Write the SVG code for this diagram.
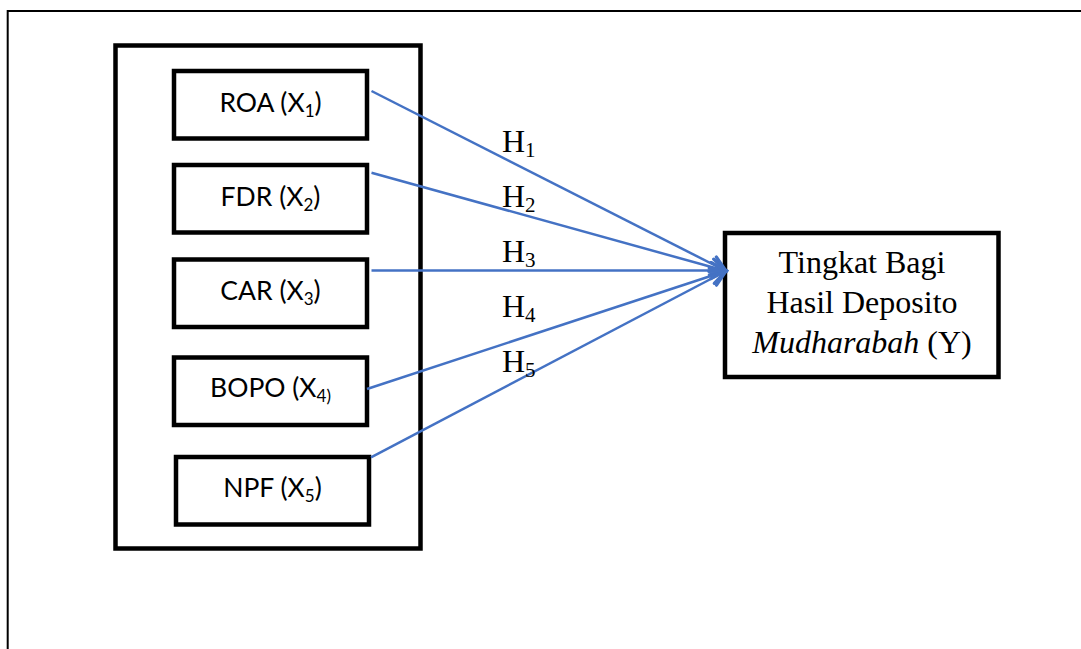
<svg xmlns="http://www.w3.org/2000/svg" width="1081" height="649" viewBox="0 0 1081 649">
  <style>
    .frame { fill: none; stroke: #000; stroke-width: 2; }
    .box { fill: #fff; stroke: #000; stroke-width: 4.5; }
    .var { font-family: Lato, "Liberation Sans", sans-serif; font-size: 26.5px; fill: #000; text-anchor: middle; }
    .serif { font-family: "Liberation Serif", "Times New Roman", serif; font-size: 32px; fill: #000; }
    .link { fill: none; stroke: #4472C4; stroke-width: 2.5; marker-end: url(#arrow); }
  </style>
  <defs>
    <marker id="arrow" markerUnits="userSpaceOnUse" markerWidth="20" markerHeight="20" refX="0" refY="0" viewBox="-14 -8 16 16" orient="auto">
      <path d="M -12 -6.5 L 0 0 L -12 6.5" fill="none" stroke="#4472C4" stroke-width="2.6" stroke-linecap="round"/>
    </marker>
  </defs>
  <rect width="1081" height="649" fill="#fff"/>

  <!-- page frame (top and left edges visible) -->
  <path class="frame" d="M 7.7 649 L 7.7 11 L 1081 11"/>

  <!-- group box holding the independent variables -->
  <g id="independents">
    <rect class="box" x="115.5" y="45.5" width="305" height="503"/>
  </g>

  <g id="roa">
    <rect class="box" x="174" y="71" width="193" height="67.5"/>
    <text class="var" x="270.5" y="112">ROA (X<tspan font-size="17" dy="5">1</tspan><tspan dy="-5">)</tspan></text>
  </g>

  <g id="fdr">
    <rect class="box" x="174" y="165" width="193" height="67.5"/>
    <text class="var" x="270.5" y="206">FDR (X<tspan font-size="17" dy="5">2</tspan><tspan dy="-5">)</tspan></text>
  </g>

  <g id="car">
    <rect class="box" x="174" y="259.5" width="193" height="67.5"/>
    <text class="var" x="270.5" y="300">CAR (X<tspan font-size="17" dy="5">3</tspan><tspan dy="-5">)</tspan></text>
  </g>

  <g id="bopo">
    <rect class="box" x="174" y="357.5" width="193" height="67.5"/>
    <text class="var" x="270.5" y="397">BOPO (X<tspan font-size="17" dy="5">4)</tspan></text>
  </g>

  <g id="npf">
    <rect class="box" x="176" y="457" width="193" height="67.5"/>
    <text class="var" x="272.5" y="497">NPF (X<tspan font-size="17" dy="5">5</tspan><tspan dy="-5">)</tspan></text>
  </g>

  <!-- dependent variable -->
  <g id="deposito">
    <rect class="box" x="725" y="233" width="273.5" height="144"/>
    <text class="serif" x="862" y="273" text-anchor="middle">Tingkat Bagi</text>
    <text class="serif" x="862" y="313" text-anchor="middle">Hasil Deposito</text>
    <text class="serif" x="862" y="353" text-anchor="middle"><tspan font-style="italic">Mudharabah</tspan> (Y)</text>
  </g>

  <!-- hypothesis paths -->
  <g id="connectors">
    <line class="link" x1="371.5" y1="91" x2="726" y2="271"/>
    <line class="link" x1="371.5" y1="172.7" x2="726" y2="271"/>
    <line class="link" x1="371.5" y1="270.5" x2="726" y2="270.5"/>
    <line class="link" x1="367" y1="389" x2="726" y2="271"/>
    <line class="link" x1="371" y1="457.3" x2="726" y2="271"/>
    <text class="serif" x="502" y="152">H<tspan font-size="21" dy="5">1</tspan></text>
    <text class="serif" x="502" y="207">H<tspan font-size="21" dy="5">2</tspan></text>
    <text class="serif" x="502" y="262">H<tspan font-size="21" dy="5">3</tspan></text>
    <text class="serif" x="502" y="317">H<tspan font-size="21" dy="5">4</tspan></text>
    <text class="serif" x="502" y="372">H<tspan font-size="21" dy="5">5</tspan></text>
  </g>
</svg>
